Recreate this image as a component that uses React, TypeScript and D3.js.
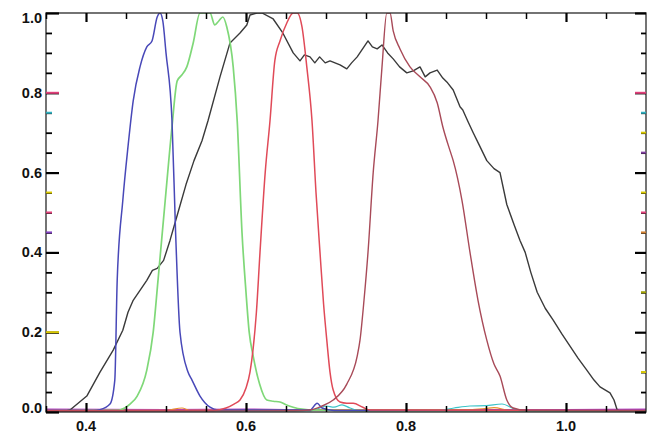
import React, { useEffect, useRef } from "react";
import * as d3 from "d3";

// ---- data (wavelength µm, relative response) ----
const blueBand: [number, number][] = [
  [0.35, 0.004], [0.41, 0.004], [0.4175, 0.006], [0.43, 0.02], [0.436, 0.08], [0.439, 0.33],
  [0.446, 0.53], [0.4525, 0.665], [0.459, 0.78], [0.4675, 0.865], [0.476, 0.915], [0.4825, 0.93],
  [0.489, 0.99], [0.4925, 1.0], [0.496, 0.98], [0.5, 0.9], [0.5075, 0.73], [0.512, 0.45],
  [0.5175, 0.2], [0.5275, 0.1], [0.5325, 0.08], [0.5425, 0.04], [0.555, 0.012], [0.565, 0.005],
  [0.68, 0.005], [0.689, 0.022], [0.695, 0.01], [0.71, 0.004], [1.1, 0.004],
];
const greenBand: [number, number][] = [
  [0.35, 0.003], [0.44, 0.004], [0.4425, 0.005], [0.455, 0.02], [0.464, 0.04], [0.476, 0.105],
  [0.484, 0.2], [0.49, 0.33], [0.499, 0.53], [0.5075, 0.715], [0.514, 0.83], [0.52, 0.845],
  [0.526, 0.865], [0.534, 0.925], [0.5425, 1.0], [0.555, 1.0], [0.561, 0.97], [0.566, 0.98],
  [0.571, 0.99], [0.576, 0.965], [0.584, 0.865], [0.589, 0.73], [0.595, 0.45], [0.6, 0.3],
  [0.604, 0.2], [0.609, 0.14], [0.617, 0.07], [0.626, 0.03], [0.634, 0.027], [0.6425, 0.025],
  [0.65, 0.018], [0.659, 0.012], [0.67, 0.007], [0.68, 0.005], [0.75, 0.003], [1.1, 0.003],
];
const redBand: [number, number][] = [
  [0.35, 0.003], [0.56, 0.004], [0.575, 0.01], [0.585, 0.02], [0.5925, 0.03], [0.6, 0.06],
  [0.605, 0.1], [0.609, 0.16], [0.613, 0.25], [0.6175, 0.4], [0.624, 0.6], [0.63, 0.73],
  [0.636, 0.88], [0.6425, 0.93], [0.651, 0.975], [0.659, 1.0], [0.664, 1.0], [0.67, 0.965],
  [0.676, 0.865], [0.6825, 0.73], [0.6875, 0.55], [0.6925, 0.4], [0.697, 0.27], [0.701, 0.18],
  [0.705, 0.1], [0.709, 0.055], [0.7175, 0.025], [0.726, 0.022], [0.734, 0.022], [0.746, 0.012],
  [0.755, 0.005], [1.1, 0.004],
];
const nirBand: [number, number][] = [
  [0.35, 0.002], [0.66, 0.003], [0.68, 0.005], [0.695, 0.015], [0.709, 0.03], [0.726, 0.07],
  [0.739, 0.14], [0.7425, 0.18], [0.7475, 0.28], [0.7525, 0.4], [0.759, 0.6], [0.765, 0.73],
  [0.77, 0.865], [0.776, 1.0], [0.78, 1.0], [0.784, 0.955], [0.7925, 0.91], [0.805, 0.865],
  [0.8175, 0.84], [0.83, 0.815], [0.839, 0.775], [0.846, 0.715], [0.855, 0.655], [0.859, 0.63],
  [0.87, 0.53], [0.88, 0.4], [0.89, 0.28], [0.901, 0.18], [0.91, 0.12], [0.9175, 0.09],
  [0.926, 0.03], [0.934, 0.01], [0.95, 0.004], [1.1, 0.003],
];
const panBand: [number, number][] = [
  [0.35, 0.0], [0.37, 0.0], [0.38, 0.005], [0.401, 0.04], [0.4175, 0.1], [0.434, 0.155],
  [0.446, 0.205], [0.4525, 0.25], [0.459, 0.28], [0.476, 0.33], [0.483, 0.355], [0.489, 0.36],
  [0.497, 0.38], [0.505, 0.43], [0.515, 0.5], [0.525, 0.57], [0.535, 0.63], [0.545, 0.68],
  [0.5525, 0.73], [0.5675, 0.84], [0.58, 0.925], [0.5925, 0.95], [0.601, 0.97], [0.605, 0.995],
  [0.614, 1.0], [0.62, 1.0], [0.634, 0.985], [0.646, 0.95], [0.659, 0.9], [0.6675, 0.88],
  [0.673, 0.895], [0.68, 0.89], [0.686, 0.875], [0.692, 0.89], [0.699, 0.875], [0.705, 0.88],
  [0.7175, 0.87], [0.726, 0.86], [0.732, 0.875], [0.739, 0.89], [0.7525, 0.93], [0.758, 0.915],
  [0.764, 0.91], [0.77, 0.92], [0.777, 0.9], [0.784, 0.885], [0.792, 0.865], [0.801, 0.85],
  [0.809, 0.855], [0.8175, 0.865], [0.824, 0.84], [0.83, 0.85], [0.839, 0.857], [0.846, 0.837],
  [0.852, 0.825], [0.859, 0.807], [0.8675, 0.765], [0.871, 0.757], [0.877, 0.73], [0.884, 0.7],
  [0.8925, 0.665], [0.901, 0.63], [0.91, 0.61], [0.9175, 0.6], [0.926, 0.52], [0.935, 0.47],
  [0.9425, 0.43], [0.949, 0.4], [0.956, 0.35], [0.964, 0.3], [0.974, 0.26], [0.984, 0.23],
  [0.995, 0.195], [1.005, 0.165], [1.015, 0.135], [1.026, 0.105], [1.035, 0.08], [1.0425, 0.063],
  [1.055, 0.048], [1.06, 0.03], [1.064, 0.005], [1.07, 0.0], [1.1, 0.0],
];
const cyanBase: [number, number][] = [
  [0.35, 0.002], [0.68, 0.003], [0.69, 0.008], [0.7, 0.015], [0.71, 0.012], [0.72, 0.018],
  [0.73, 0.01], [0.74, 0.004], [0.84, 0.004], [0.86, 0.01], [0.88, 0.015], [0.9, 0.016],
  [0.92, 0.02], [0.935, 0.008], [0.95, 0.003], [1.1, 0.003],
];
const magentaBase: [number, number][] = [
  [0.35, 0.007], [0.5, 0.006], [0.6, 0.007], [0.65, 0.006], [0.7, 0.006], [0.8, 0.005],
  [0.9, 0.006], [1.0, 0.006], [1.1, 0.007],
];
const orangeBase: [number, number][] = [
  [0.35, 0.004], [0.5, 0.004], [0.52, 0.01], [0.53, 0.004], [0.88, 0.006], [0.9, 0.009],
  [0.91, 0.011], [0.93, 0.004], [1.1, 0.003],
];

const xMinorTicks = [0.35, 0.45, 0.5, 0.55, 0.65, 0.7, 0.75, 0.85, 0.9, 0.95, 1.05];
const xLabels = [0.4, 0.6, 0.8, 1.0];
const yMinorTicks = [0.05, 0.1, 0.15, 0.25, 0.3, 0.35, 0.45, 0.5, 0.55, 0.65, 0.7, 0.75, 0.85, 0.9, 0.95];
const yLabels = [0.0, 0.2, 0.4, 0.6, 0.8, 1.0];
// coloured tick overlays (artefacts of overlaid plots)
const leftTickColors: [number, string][] = [[0.8, "#e0407a"], [0.2, "#d8c800"], [0.55, "#d8c800"], [0.5, "#e0407a"], [0.45, "#8040c0"], [0.75, "#30b0c0"]];
const rightTickColors: [number, string][] = [[0.8, "#e0407a"], [0.75, "#30b0c0"], [0.7, "#d8c800"], [0.65, "#8040a0"], [0.55, "#d8c800"], [0.5, "#e0407a"], [0.45, "#d08030"], [0.3, "#a0a000"], [0.1, "#d8c800"]];

const series: { data: [number, number][]; color: string; curve: any; w: number }[] = [
  { data: magentaBase, color: "#b040c0", curve: d3.curveLinear, w: 1.4 },
  { data: orangeBase, color: "#e8902c", curve: d3.curveMonotoneX, w: 1.2 },
  { data: cyanBase, color: "#3cc4c8", curve: d3.curveMonotoneX, w: 1.2 },
  { data: panBand, color: "#3a3a3a", curve: d3.curveLinear, w: 1.4 },
  { data: greenBand, color: "#7fd878", curve: d3.curveMonotoneX, w: 1.7 },
  { data: blueBand, color: "#4848b8", curve: d3.curveMonotoneX, w: 1.5 },
  { data: redBand, color: "#e04a58", curve: d3.curveMonotoneX, w: 1.5 },
  { data: nirBand, color: "#a84a58", curve: d3.curveMonotoneX, w: 1.4 },
];

const W = 652, H = 437;
const L = 46, R = 646, T = 13, B = 412;
const isMajor = (list: number[], v: number) => list.some((l) => Math.abs(l - v) < 1e-6);

export default function App() {
  const axesRef = useRef<SVGGElement>(null);
  const x = d3.scaleLinear().domain([0.35, 1.1]).range([L, R]);
  const y = d3.scaleLinear().domain([0, 1]).range([B, T]);
  const font = "'Liberation Sans', Arial, sans-serif";

  useEffect(() => {
    const g = d3.select(axesRef.current);
    g.selectAll("*").remove();
    const style = (sel: any, w: number) => {
      sel.select(".domain").remove();
      sel.selectAll(".tick line").attr("stroke", "#000").attr("stroke-width", w);
      sel.selectAll(".tick text").remove();
    };
    g.append("g").attr("transform", `translate(${L},0)`)
      .call(d3.axisLeft(y).tickValues(yLabels).tickSize(-13).tickFormat(() => ""))
      .call(style, 2.2);
    g.append("g").attr("transform", `translate(${L},0)`)
      .call(d3.axisLeft(y).tickValues(yMinorTicks).tickSize(-6).tickFormat(() => ""))
      .call(style, 1.8);
    g.append("g").attr("transform", `translate(${R},0)`)
      .call(d3.axisRight(y).tickValues(yLabels).tickSize(-11).tickFormat(() => ""))
      .call(style, 2.2);
    g.append("g").attr("transform", `translate(${R},0)`)
      .call(d3.axisRight(y).tickValues(yMinorTicks).tickSize(-5).tickFormat(() => ""))
      .call(style, 1.8);
    g.append("g").attr("transform", `translate(0,${B})`)
      .call(d3.axisBottom(x).tickValues(xLabels).tickSize(-9).tickFormat(() => ""))
      .call(style, 2.2);
    g.append("g").attr("transform", `translate(0,${B})`)
      .call(d3.axisBottom(x).tickValues(xMinorTicks).tickSize(-6).tickFormat(() => ""))
      .call(style, 1.5);
    g.append("g").attr("transform", `translate(0,${T})`)
      .call(d3.axisTop(x).tickValues(xLabels).tickSize(-9).tickFormat(() => ""))
      .call(style, 2.2);
    g.append("g").attr("transform", `translate(0,${T})`)
      .call(d3.axisTop(x).tickValues(xMinorTicks).tickSize(-6).tickFormat(() => ""))
      .call(style, 1.5);
  }, []);

  return (
    <div style={{ position: "absolute", left: 0, top: 0 }}>
      <svg width={W} height={H} style={{ display: "block", background: "#fff" }}>
        <defs>
          <clipPath id="plotclip">
            <rect x={L} y={T} width={R - L} height={B - T} />
          </clipPath>
        </defs>
        <g clipPath="url(#plotclip)">
          {series.map((s, i) => {
            const line = d3
              .line<[number, number]>()
              .x((d) => x(d[0]))
              .y((d) => y(d[1]))
              .curve(s.curve);
            return (
              <path key={"s" + i} d={line(s.data) || ""} fill="none" stroke={s.color} strokeWidth={s.w} strokeLinejoin="round" />
            );
          })}
        </g>
        <rect x={L} y={T} width={R - L} height={B - T} fill="none" stroke="#2a2a2a" strokeWidth={1.3} />
        <g ref={axesRef} />
        {leftTickColors.map(([v, c], i) => (
          <rect key={"lc" + i} x={L} y={y(v) - 1} width={isMajor(yLabels, v) ? 13 : 6} height={2} fill={c} />
        ))}
        {rightTickColors.map(([v, c], i) => (
          <rect key={"rc" + i} x={R - (isMajor(yLabels, v) ? 11 : 5)} y={y(v) - 1} width={isMajor(yLabels, v) ? 11 : 5} height={2} fill={c} />
        ))}
        {yLabels.map((v, i) => (
          <text
            key={"ylab" + i}
            x={42}
            y={Math.min(Math.max(y(v), 18), 408)}
            textAnchor="end"
            dominantBaseline="central"
            fontFamily={font}
            fontWeight="bold"
            fontSize={14.5}
            fill="#111"
          >
            {v.toFixed(1)}
          </text>
        ))}
        {xLabels.map((v, i) => (
          <text
            key={"xlab" + i}
            x={x(v)}
            y={431}
            textAnchor="middle"
            fontFamily={font}
            fontWeight="bold"
            fontSize={14.5}
            fill="#111"
          >
            {v.toFixed(1)}
          </text>
        ))}
      </svg>
    </div>
  );
}
